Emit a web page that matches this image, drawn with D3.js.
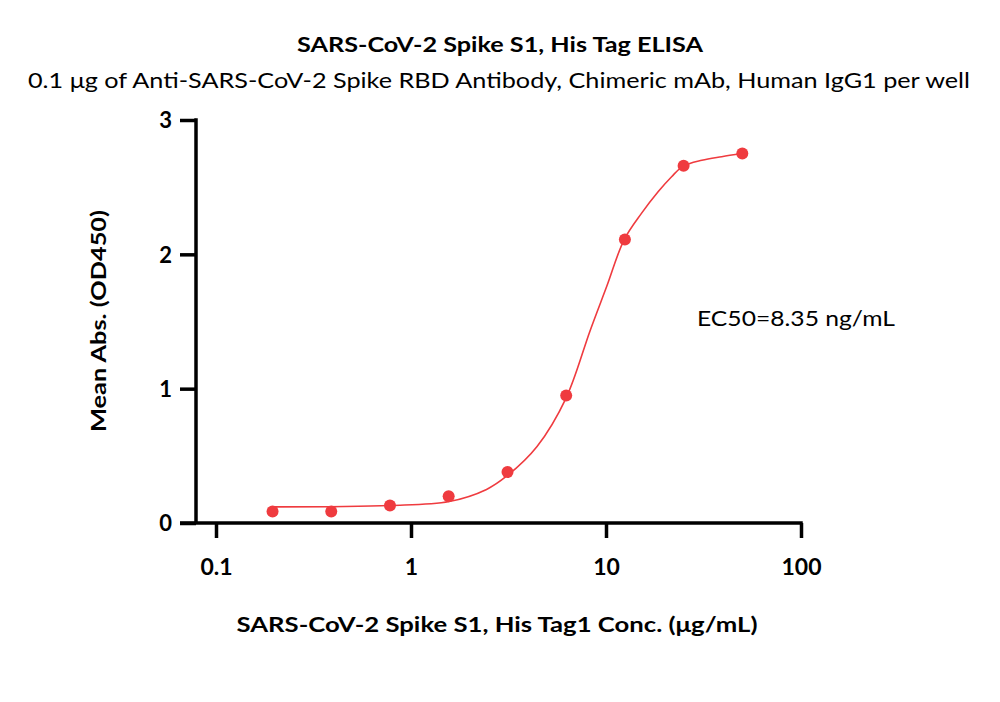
<!DOCTYPE html>
<html><head><meta charset="utf-8">
<script src="https://cdn.jsdelivr.net/npm/d3@7"></script>
<style>body{margin:0;background:#fff}svg{display:block}text{font-family:Lato,"Open Sans",sans-serif;fill:#000}</style>
</head><body>
<svg id="c" width="1000" height="702"></svg>
<script>
const concentrations = [0.195, 0.39, 0.78, 1.56, 3.125, 6.25, 12.5, 25, 50];
const absorbances = [0.085, 0.085, 0.13, 0.20, 0.38, 0.95, 2.11, 2.66, 2.75];
const curveX = [0.196, 0.78, 1.57, 2.44, 3.1, 4.43, 6.24, 8.28, 10.08, 12.4, 15.2, 18.5, 21.7, 24.8, 31, 39.2, 49.5];
const curveY = [0.12, 0.13, 0.16, 0.25, 0.35, 0.57, 0.93, 1.43, 1.76, 2.11, 2.305, 2.466, 2.578, 2.655, 2.70, 2.727, 2.75];
const xTicks = [0.1, 1, 10, 100];
const xTickLabels = ["0.1", "1", "10", "100"];
const yTicks = [0, 1, 2, 3];
const yTickLabels = ["0", "1", "2", "3"];
const titleText = "SARS-CoV-2 Spike S1, His Tag ELISA";
const subtitleText = "0.1 μg of Anti-SARS-CoV-2 Spike RBD Antibody, Chimeric mAb, Human IgG1 per well";
const xLabel = "SARS-CoV-2 Spike S1, His Tag1 Conc. (μg/mL)";
const yLabel = "Mean Abs. (OD450)";
const annotation = "EC50=8.35 ng/mL";

const svg = d3.select("#c");
const red = "#EF3B3F";
const x = d3.scaleLog().domain([0.1, 100]).range([216, 801]);
const y = d3.scaleLinear().domain([0, 3]).range([523, 120]);

// y axis
const yAxis = svg.append("g").attr("transform", "translate(196,0)")
  .call(d3.axisLeft(y).tickValues(yTicks).tickFormat((d,i)=>yTickLabels[i]).tickSize(16).tickSizeOuter(0).tickPadding(8));
yAxis.select(".domain").attr("stroke-width", 3.5).attr("d", `M0,${y(3)-1.75}V${y(0)}`);
yAxis.selectAll(".tick line").attr("stroke-width", 3.5);
yAxis.selectAll(".tick text").style("font-size", "22px").style("font-weight", "bold").attr("dy", "0.35em");

// x axis
const xAxis = svg.append("g").attr("transform", `translate(0,${y(0)})`)
  .call(d3.axisBottom(x).tickValues(xTicks).tickFormat((d,i)=>xTickLabels[i]).tickSize(15).tickSizeOuter(0).tickPadding(21));
xAxis.select(".domain").attr("stroke-width", 3.5).attr("d", `M180,0H${x(100)+1.75}`);
xAxis.selectAll(".tick line").attr("stroke-width", 3.5);
xAxis.selectAll(".tick text").style("font-size", "23px").style("font-weight", "bold");

// fitted curve
const line = d3.line().x(d=>x(d[0])).y(d=>y(d[1])).curve(d3.curveCatmullRom.alpha(0.5));
svg.append("path").datum(curveX.map((v,i)=>[v, curveY[i]]))
  .attr("d", line).attr("fill", "none").attr("stroke", red).attr("stroke-width", 1.6);

// points
svg.selectAll("circle.pt").data(concentrations.map((v,i)=>[v, absorbances[i]])).enter()
  .append("circle").attr("class","pt").attr("cx", d=>x(d[0])).attr("cy", d=>y(d[1])).attr("r", 6).attr("fill", red);

// texts
svg.append("text").attr("x", 500).attr("y", 52).attr("text-anchor","middle")
  .style("font-size","21px").style("font-weight","bold").attr("textLength", 406).attr("lengthAdjust","spacingAndGlyphs").text(titleText);
svg.append("text").attr("x", 499).attr("y", 88).attr("text-anchor","middle")
  .style("font-size","21px").attr("textLength", 942).attr("lengthAdjust","spacingAndGlyphs").text(subtitleText);
svg.append("text").attr("x", 497).attr("y", 632).attr("text-anchor","middle")
  .style("font-size","21px").style("font-weight","bold").attr("textLength", 521).attr("lengthAdjust","spacingAndGlyphs").text(xLabel);
svg.append("text").attr("transform","translate(106,321) rotate(-90)").attr("text-anchor","middle")
  .style("font-size","21px").style("font-weight","bold").attr("textLength", 222).attr("lengthAdjust","spacingAndGlyphs").text(yLabel);
svg.append("text").attr("x", 697).attr("y", 326)
  .style("font-size","21px").attr("textLength", 198).attr("lengthAdjust","spacingAndGlyphs").text(annotation);
</script>
</body></html>
